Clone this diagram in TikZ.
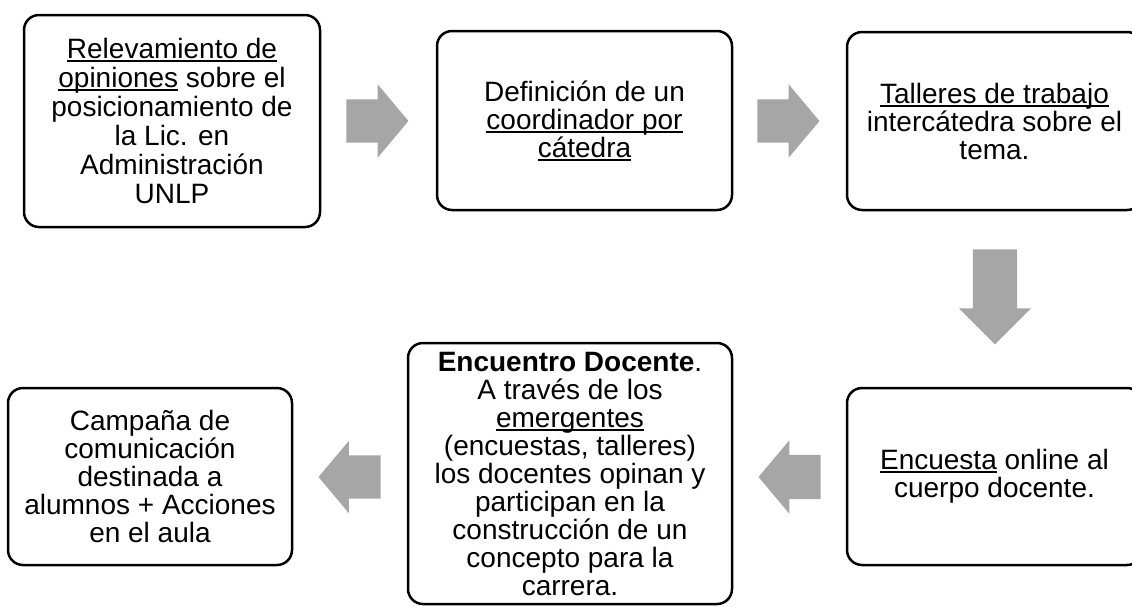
\documentclass[tikz,border=0pt]{standalone}
\usepackage{fontspec}
\setmainfont{Liberation Sans}
\usetikzlibrary{shapes.arrows,calc}
\definecolor{arrowgray}{HTML}{A6A6A6}
\newcommand{\uln}[1]{\setbox0=\hbox{#1}\rlap{\rule[-3.5pt]{\wd0}{1.8pt}}\box0\relax}
\newcommand{\shaft}[1]{\rule{0pt}{#1}}
\begin{document}
\begin{tikzpicture}[x=1pt, y=-1pt,
	box/.style={draw, line width=2.5pt, rounded corners=15pt, align=center, inner sep=0pt, font=\fontsize{28}{28}\selectfont},
	blockarrow/.style={single arrow, fill=arrowgray, draw=none, inner sep=0pt, anchor=tail, minimum height=62pt, minimum width=73pt, single arrow head extend=15pt, single arrow tip angle=100}]
	\useasboundingbox (0, 0) rectangle (1132, 606);
	\node[box, font=\fontsize{28}{29}\selectfont, minimum width=296pt, minimum height=212pt] (relev) at (172, 121) {\uln{Relevamiento de}\\ \uln{opiniones} sobre el\\ posicionamiento de\\ la Lic. en\\ Administración\\ UNLP};
	\node[box, minimum width=295pt, minimum height=179pt] (coord) at (584.5, 120.5) {Definición de un\\ \uln{coordinador por}\\ \uln{cátedra}};
	\node[box, minimum width=295pt, minimum height=178pt] (talleres) at (994.5, 121) {\uln{Talleres de trabajo}\\ intercátedra sobre el\\ tema.};
	\node[box, minimum width=295pt, minimum height=177pt] (encuesta) at (994.5, 476.5) {\uln{Encuesta} online al\\ cuerpo docente.};
	\node[box, minimum width=324pt, minimum height=261pt] (encuentro) at (570, 473.5) {\textbf{Encuentro Docente}.\\ A través de los\\ \uln{emergentes}\\ (encuestas, talleres)\\ los docentes opinan y\\ participan en la\\ construcción de un\\ concepto para la\\ carrera.};
	\node[box, minimum width=284pt, minimum height=177pt] (campana) at (150, 476.5) {Campaña de\\ comunicación\\ destinada a\\ alumnos + Acciones\\ en el aula};
	% flechas
	\node[blockarrow] (f1) at ($(relev.east)+(25, 0)$) {\shaft{43pt}};
	\node[blockarrow] (f2) at ($(coord.east)+(24, 0.5)$) {\shaft{43pt}};
	\node[blockarrow, rotate=-90, minimum height=95pt, minimum width=72pt, single arrow head extend=14pt, single arrow tip angle=90] (f3) at ($(talleres.south)+(0.5, 38)$) {\shaft{44pt}};
	\node[blockarrow, rotate=180, minimum width=72pt, single arrow head extend=14.5pt] (f4) at ($(encuesta.west)+(-25, 0.5)$) {\shaft{44pt}};
	\node[blockarrow, rotate=180, minimum width=72pt, single arrow head extend=14.5pt] (f5) at ($(encuentro.west)+(-26, 3.5)$) {\shaft{43pt}};
\end{tikzpicture}
\end{document}
